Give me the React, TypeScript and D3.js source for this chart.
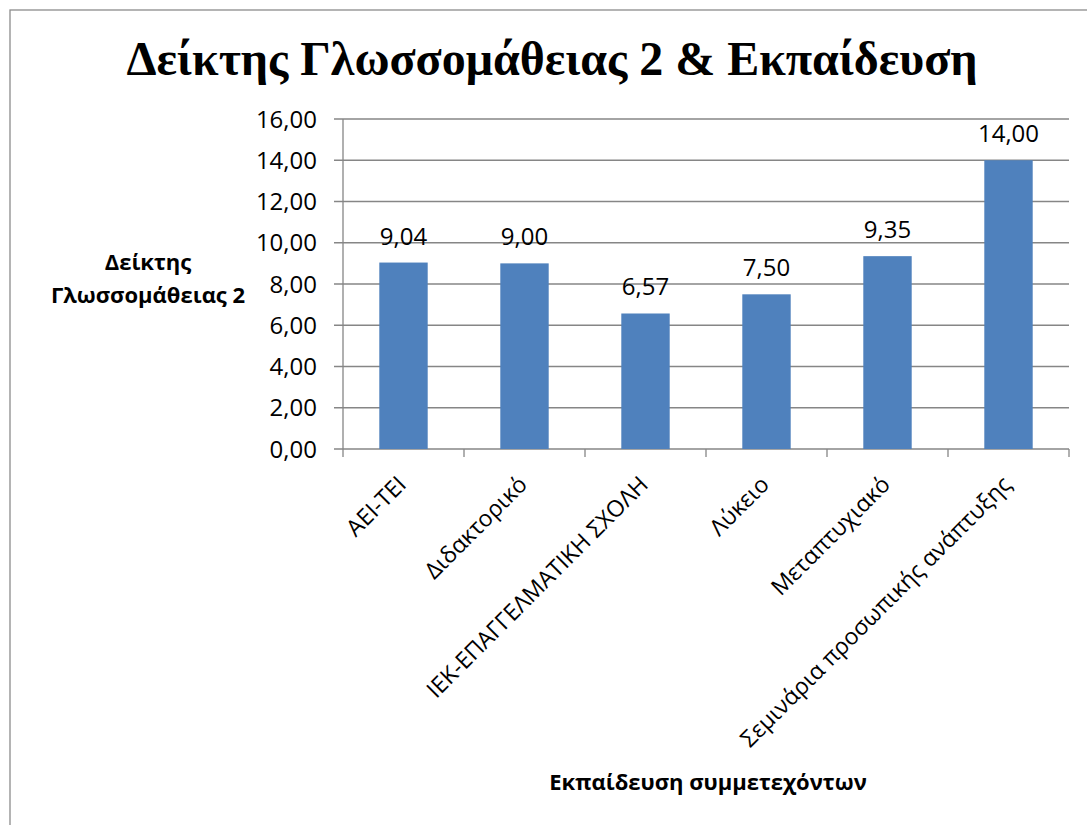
import React from "react";
import * as d3 from "d3";

const categories = [
  "ΑΕΙ-ΤΕΙ",
  "Διδακτορικό",
  "ΙΕΚ-ΕΠΑΓΓΕΛΜΑΤΙΚΗ ΣΧΟΛΗ",
  "Λύκειο",
  "Μεταπτυχιακό",
  "Σεμινάρια προσωπικής ανάπτυξης",
];
const values = [9.04, 9.0, 6.57, 7.5, 9.35, 14.0];
const yTicks = [0, 2, 4, 6, 8, 10, 12, 14, 16];
const title = "Δείκτης Γλωσσομάθειας 2 & Εκπαίδευση";
const yTitleLines = ["Δείκτης", "Γλωσσομάθειας 2"];
const xTitle = "Εκπαίδευση συμμετεχόντων";

const W = 1087;
const H = 825;
const left = 343;
const right = 1069;
const top = 119;
const bottom = 449;
const font = "'Open Sans', 'Noto Sans', sans-serif";
const fmt = (v: number) => v.toFixed(2).replace(".", ",");

export default function App() {
  const x = d3.scaleBand<string>().domain(categories).range([left, right]).paddingInner(0).paddingOuter(0);
  const y = d3.scaleLinear().domain([0, 16]).range([bottom, top]);
  const bw = x.bandwidth() / 2.5;
  const grid = "#868686";
  return (
    <svg width={W} height={H} style={{ position: "absolute", left: 0, top: 0, background: "#fff" }}>
      <rect x={10} y={10} width={W + 20} height={H + 20} fill="#fff" stroke="#8c8c8c" strokeWidth={1.3} />
      <text x={552} y={75} textAnchor="middle" fontFamily="'Liberation Serif', 'Times New Roman', serif" fontWeight="bold" fontSize={48}>
        {title}
      </text>
      {yTicks.map((t) => (
        <g key={t}>
          <line x1={334} x2={right} y1={y(t)} y2={y(t)} stroke={grid} strokeWidth={1.3} />
          <text x={317} y={y(t)} dy="0.36em" textAnchor="end" fontFamily={font} fontSize={24} fill="#000">
            {fmt(t)}
          </text>
        </g>
      ))}
      <line x1={left} x2={left} y1={top} y2={bottom} stroke={grid} strokeWidth={1.3} />
      {categories.map((c) => (
        <line key={c} x1={x(c)! + x.bandwidth()} x2={x(c)! + x.bandwidth()} y1={bottom} y2={bottom + 8} stroke={grid} strokeWidth={1.3} />
      ))}
      <line x1={left} x2={left} y1={bottom} y2={bottom + 8} stroke={grid} strokeWidth={1.3} />
      {categories.map((c, i) => {
        const cx = x(c)! + x.bandwidth() / 2;
        return (
          <g key={c}>
            <rect x={cx - bw / 2} y={y(values[i])} width={bw} height={bottom - y(values[i])} fill="#4F81BD" />
            <text x={cx} y={y(values[i]) - 18} textAnchor="middle" fontFamily={font} fontSize={24} fill="#000">
              {fmt(values[i])}
            </text>
            <text
              transform={`translate(${cx + 4},${bottom + 37}) rotate(-45)`}
              textAnchor="end"
              fontFamily={font}
              fontSize={23}
              fill="#000"
            >
              {c}
            </text>
          </g>
        );
      })}
      {yTitleLines.map((l, i) => (
        <text key={l} x={148} y={270 + i * 33} textAnchor="middle" fontFamily={font} fontWeight="bold" fontSize={22} fill="#000">
          {l}
        </text>
      ))}
      <text x={708} y={790} textAnchor="middle" fontFamily={font} fontWeight="bold" fontSize={22} fill="#000">
        {xTitle}
      </text>
    </svg>
  );
}
